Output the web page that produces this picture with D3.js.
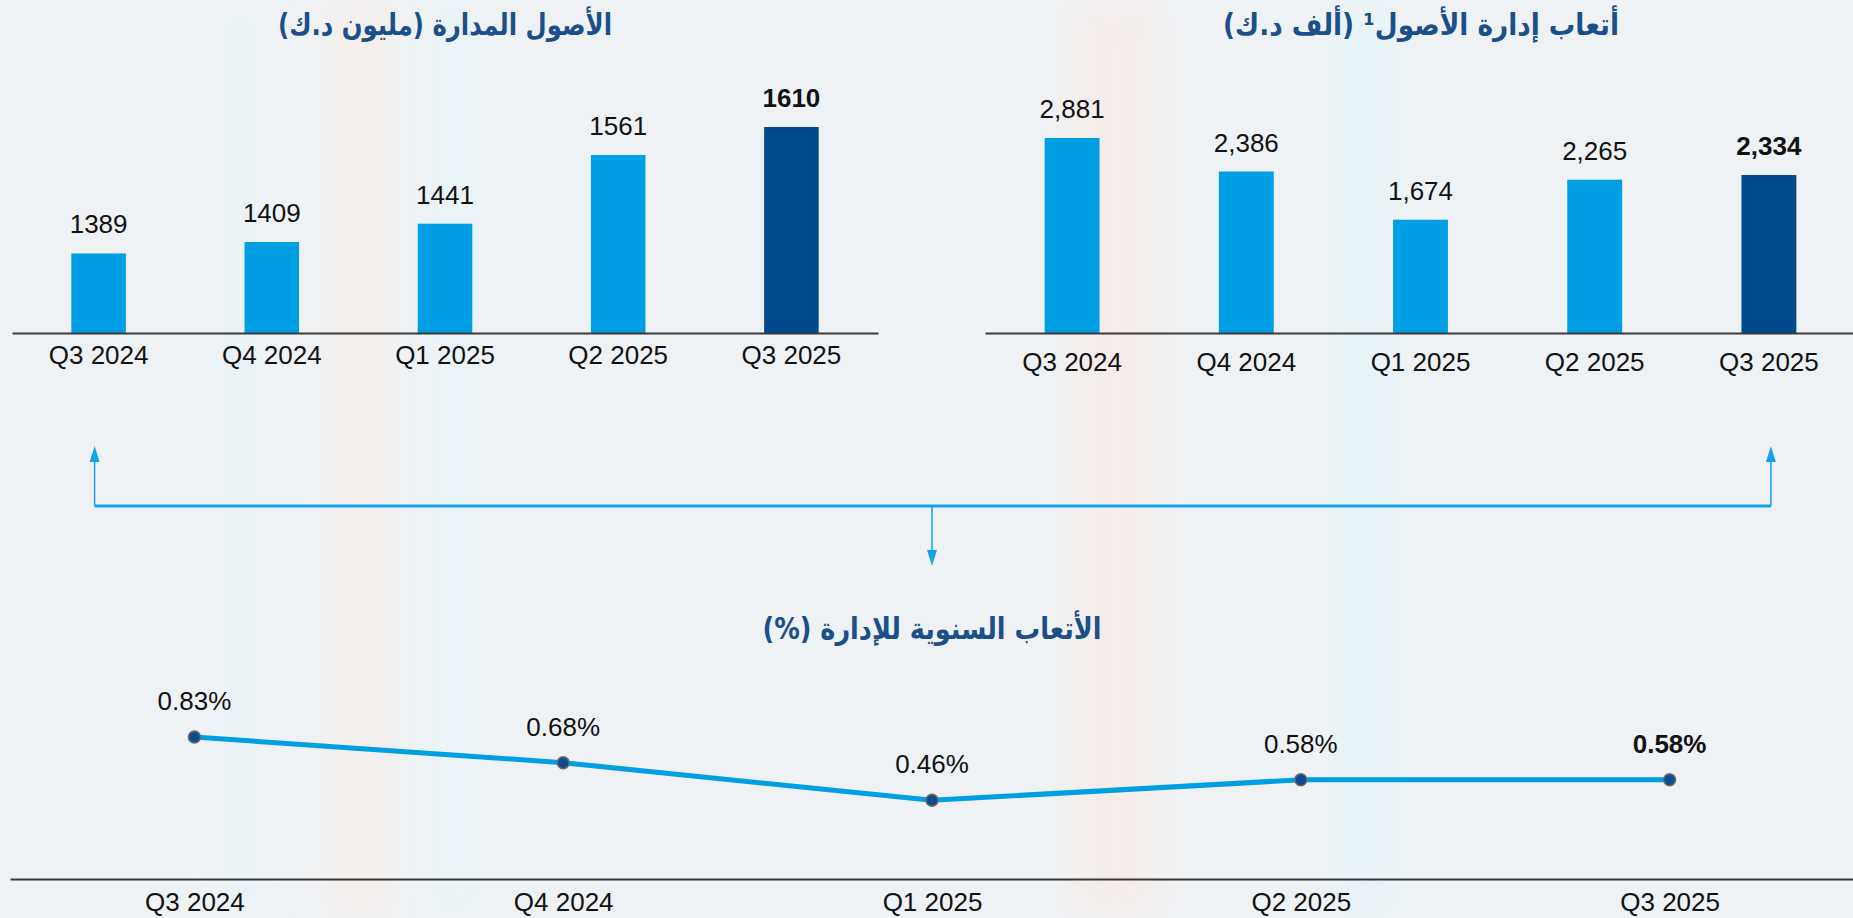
<!DOCTYPE html>
<html>
<head>
<meta charset="utf-8">
<script src="https://cdn.jsdelivr.net/npm/d3@7"></script>
<style>
  html, body { margin: 0; padding: 0; background: #eff2f5; }
  svg { display: block; }
  .num { font-family: "Liberation Sans", Arial, sans-serif; fill: #111; }
  .title { font-family: "DejaVu Sans", sans-serif; font-weight: bold; fill: #1b4f8a; }
</style>
</head>
<body>
<div class="container"></div>
<script>
var quarters = ['Q3 2024', 'Q4 2024', 'Q1 2025', 'Q2 2025', 'Q3 2025'];
var aumValues = [1389, 1409, 1441, 1561, 1610];
var feeValues = [2881, 2386, 1674, 2265, 2334];
var feeRates = [0.83, 0.68, 0.46, 0.58, 0.58];

var aumTitle = 'الأصول المدارة (مليون د.ك)';
var feeTitle = 'أتعاب إدارة الأصول\u00B9  (ألف د.ك)';
var rateTitle = 'الأتعاب السنوية للإدارة (%)';

const WIDTH = 1853;
const HEIGHT = 918;
const LIGHT = '#009fe3';
const DARK = '#004a8b';
const FONT = 26;

var svg = d3.select('.container').append('svg')
    .attr('width', WIDTH)
    .attr('height', HEIGHT);

// faint backdrop, like the blurred photo behind the slide
var defs = svg.append('defs');
defs.append('filter').attr('id', 'blur')
    .append('feGaussianBlur').attr('stdDeviation', 18);
svg.append('rect').attr('width', WIDTH).attr('height', HEIGHT).attr('fill', '#eff2f5');
var haze = svg.append('g').attr('filter', 'url(#blur)').attr('opacity', 0.35);
[[330, 60, '#fde8d8'], [430, 50, '#dff6fb'], [1070, 90, '#fde3d6'], [1330, 70, '#dcf6fb'], [220, 40, '#e0f5fb']]
    .forEach(function (s) {
        haze.append('rect').attr('x', s[0]).attr('y', 0).attr('width', s[1]).attr('height', HEIGHT).attr('fill', s[2]);
    });

var barChart = function (values, x, y, tickPad, fmt) {
    var g = svg.append('g');
    g.selectAll('rect.bar')
        .data(values)
        .enter()
        .append('rect')
        .attr('class', 'bar')
        .attr('x', function (d, i) { return x(quarters[i]); })
        .attr('width', x.bandwidth())
        .attr('y', function (d) { return y(d); })
        .attr('height', function (d) { return y.range()[0] - y(d); })
        .attr('fill', function (d, i) { return i === values.length - 1 ? DARK : LIGHT; });

    g.selectAll('text.val')
        .data(values)
        .enter()
        .append('text')
        .attr('class', 'num val')
        .attr('x', function (d, i) { return x(quarters[i]) + x.bandwidth() / 2; })
        .attr('y', function (d) { return y(d) - 20; })
        .attr('text-anchor', 'middle')
        .attr('font-size', FONT)
        .attr('font-weight', function (d, i) { return i === values.length - 1 ? 'bold' : 'normal'; })
        .text(fmt);

    var axis = g.append('g')
        .attr('transform', 'translate(0,' + y.range()[0] + ')')
        .call(d3.axisBottom(x).tickSize(0).tickPadding(tickPad));
    axis.select('.domain').attr('stroke', '#3a3a3a').attr('stroke-width', 2);
    axis.selectAll('text').attr('class', 'num').attr('font-size', FONT);
    return g;
};

var addTitle = function (label, cx, y, width) {
    svg.append('text').attr('class', 'title')
        .attr('x', cx).attr('y', y)
        .attr('text-anchor', 'middle').attr('direction', 'rtl')
        .attr('font-size', 30)
        .attr('textLength', width)
        .attr('lengthAdjust', 'spacingAndGlyphs')
        .text(label);
};

// left: assets under management
var xAum = d3.scaleBand().domain(quarters).range([12, 878]).paddingInner(0.685).paddingOuter(0.3425);
var yAum = d3.scaleLinear().domain([1250, 1610]).range([333, 127]);
barChart(aumValues, xAum, yAum, 13, function (d) { return d; });

// right: asset management fees
var xFee = d3.scaleBand().domain(quarters).range([985, 1856]).paddingInner(0.685).paddingOuter(0.3425);
var yFee = d3.scaleLinear().domain([0, 2881]).range([333, 138]);
barChart(feeValues, xFee, yFee, 20, d3.format(','));

addTitle(aumTitle, 445, 35, 334);
addTitle(feeTitle, 1421, 35, 396);

// bottom: annual management fee rate
var xRate = d3.scalePoint().domain(quarters).range([10, 1854]).padding(0.5);
var yRate = d3.scaleLinear().domain([0, 0.83]).range([879, 737]);

// connector arrows
var arrowY = 506;
var leftX = xAum(quarters[0]) + xAum.bandwidth() / 2 - 4;
var rightX = xFee(quarters[4]) + xFee.bandwidth() / 2 + 2;
var downX = xRate(quarters[2]);
var arrows = svg.append('g').attr('stroke', '#13a3e8').attr('fill', '#13a3e8');
arrows.append('line').attr('x1', leftX).attr('x2', rightX).attr('y1', arrowY).attr('y2', arrowY).attr('stroke-width', 3);
arrows.append('line').attr('x1', leftX).attr('x2', leftX).attr('y1', arrowY).attr('y2', 458).attr('stroke-width', 1.5);
arrows.append('line').attr('x1', rightX).attr('x2', rightX).attr('y1', arrowY).attr('y2', 458).attr('stroke-width', 1.5);
arrows.append('line').attr('x1', downX).attr('x2', downX).attr('y1', arrowY).attr('y2', 552).attr('stroke-width', 1.5);
var head = function (cx, tip, base) {
    return 'M' + cx + ',' + tip + 'L' + (cx - 5) + ',' + base + 'L' + (cx + 5) + ',' + base + 'Z';
};
arrows.append('path').attr('stroke', 'none').attr('d', head(leftX, 446, 462));
arrows.append('path').attr('stroke', 'none').attr('d', head(rightX, 446, 462));
arrows.append('path').attr('stroke', 'none').attr('d', head(downX, 566, 550));

addTitle(rateTitle, 932, 639, 339);

var lineGroup = svg.append('g');
var rateAxis = lineGroup.append('g')
    .attr('transform', 'translate(0,' + yRate.range()[0] + ')')
    .call(d3.axisBottom(xRate).tickSize(0).tickPadding(14));
rateAxis.select('.domain').attr('stroke', '#3a3a3a').attr('stroke-width', 2);
rateAxis.selectAll('text').attr('class', 'num').attr('font-size', FONT);

var line = d3.line()
    .x(function (d, i) { return xRate(quarters[i]); })
    .y(function (d) { return yRate(d); });
lineGroup.append('path')
    .datum(feeRates)
    .attr('d', line)
    .attr('fill', 'none')
    .attr('stroke', LIGHT)
    .attr('stroke-width', 5);
lineGroup.selectAll('circle')
    .data(feeRates)
    .enter()
    .append('circle')
    .attr('cx', function (d, i) { return xRate(quarters[i]); })
    .attr('cy', function (d) { return yRate(d); })
    .attr('r', 6)
    .attr('fill', '#0d4a8e')
    .attr('stroke', '#6b6b6b')
    .attr('stroke-width', 1.5);
lineGroup.selectAll('text.val')
    .data(feeRates)
    .enter()
    .append('text')
    .attr('class', 'num val')
    .attr('x', function (d, i) { return xRate(quarters[i]); })
    .attr('y', function (d) { return yRate(d) - 27; })
    .attr('text-anchor', 'middle')
    .attr('font-size', FONT)
    .attr('font-weight', function (d, i) { return i === feeRates.length - 1 ? 'bold' : 'normal'; })
    .text(function (d) { return d.toFixed(2) + '%'; });
</script>
</body>
</html>
